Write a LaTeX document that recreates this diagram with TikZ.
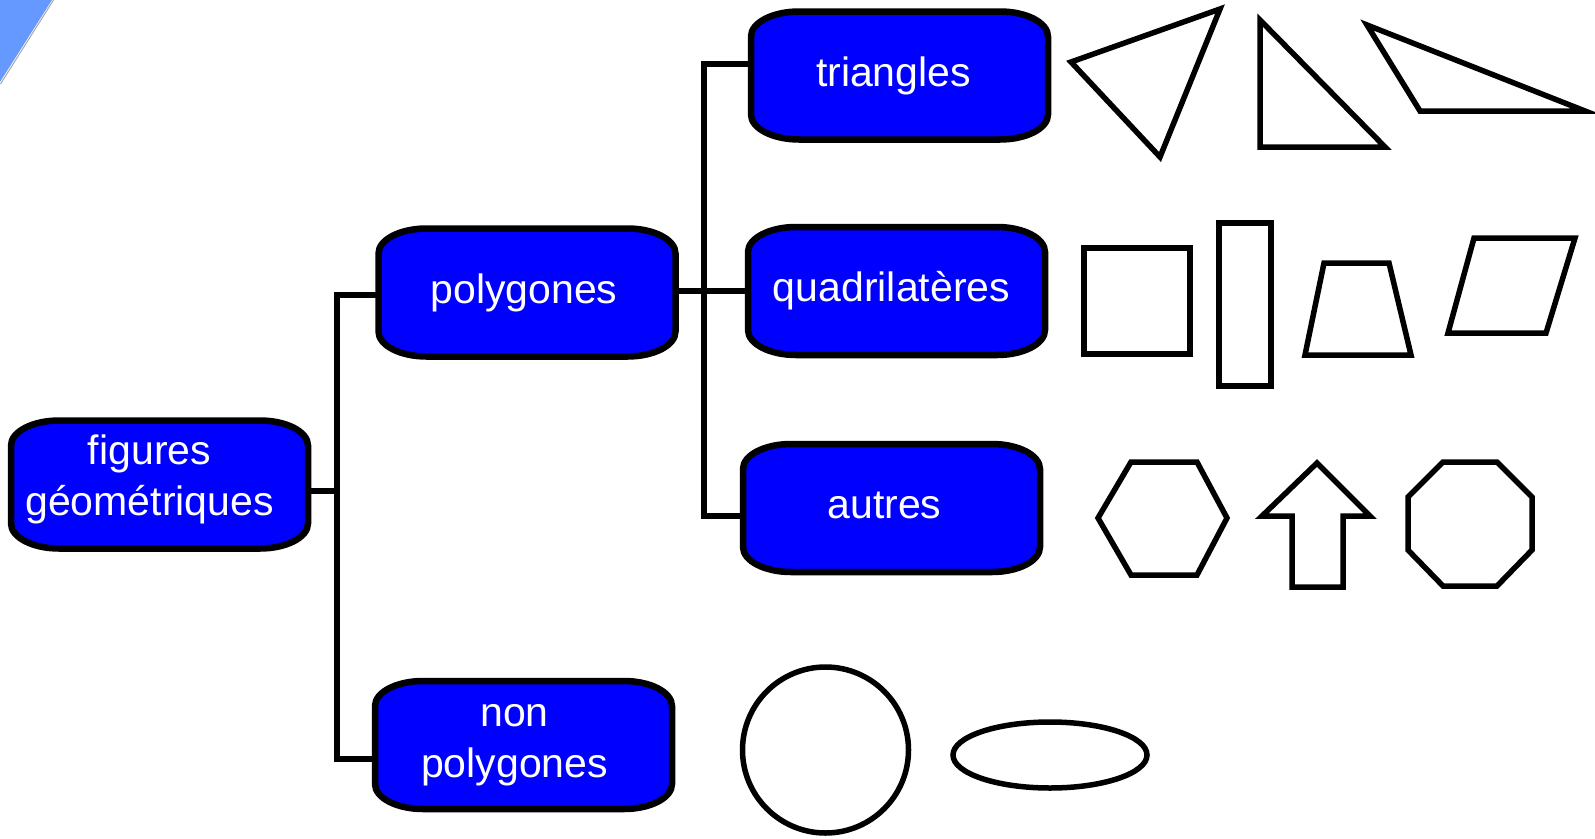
\documentclass[tikz,border=0pt]{standalone}
\usepackage{fontspec}
\setmainfont{Liberation Sans}
\usetikzlibrary{calc}
\definecolor{cornerblue}{RGB}{102,153,255}
\tikzset{
  boxpath/.style={draw=black, fill=blue, line width=6.5pt},
  boxnode/.style={inner sep=0pt, outer sep=0pt, minimum width=297pt, minimum height=128pt},
  boxtext/.style={text=white, font=\fontsize{41}{51.5}\selectfont, inner sep=0pt, align=center},
  oneline/.style={text height=29.5pt, text depth=8.5pt},
  conn/.style={draw=black, line width=5.5pt},
  figshape/.style={draw=black, line width=5.5pt, line join=miter},
}
\newcommand\gbox[3]{%
  \path[boxpath] ({#2-148.5+48},{#3-64}) -- ({#2+148.5-48},{#3-64})
    arc[start angle=90,end angle=0,x radius=48pt,y radius=25pt]
    -- ({#2+148.5},{#3+64-25})
    arc[start angle=0,end angle=-90,x radius=48pt,y radius=25pt]
    -- ({#2-148.5+48},{#3+64})
    arc[start angle=-90,end angle=-180,x radius=48pt,y radius=25pt]
    -- ({#2-148.5},{#3-64+25})
    arc[start angle=180,end angle=90,x radius=48pt,y radius=25pt] -- cycle;
  \node[boxnode] (#1) at (#2,#3) {};
}
\begin{document}
\begin{tikzpicture}[x=1pt,y=-1pt]
\useasboundingbox (0,0) rectangle (1595,838);
% corner decoration
\fill[cornerblue] (0,0) -- (52,0) -- (0,82) -- cycle;
\draw[gray!70, line width=1pt] (53.5,0) -- (0.5,84);
% boxes
\gbox{fig}{159.5}{484.5}
\gbox{poly}{527}{292.5}
\gbox{tri}{899.5}{75.5}
\gbox{quad}{896.5}{291}
\gbox{aut}{891.5}{508}
\gbox{nonp}{523.5}{745}
\node[boxtext] (fig-t) at ([xshift=-10pt,yshift=5pt]fig.center) {figures\\géométriques};
\node[boxtext, oneline] (poly-t) at ([xshift=-3pt]poly.center) {polygones};
\node[boxtext, oneline] (tri-t) at ([xshift=-6pt]tri.center) {triangles};
\node[boxtext, oneline] (quad-t) at ([xshift=-5pt]quad.center) {quadrilatères};
\node[boxtext, oneline] (aut-t) at ([xshift=-7pt]aut.center) {autres};
\node[boxtext] (nonp-t) at ([xshift=-9pt]nonp.center) {non\\polygones};
% connectors
\coordinate (ja) at (337,295);
\coordinate (jb) at (337,759);
\coordinate (jc) at (337,491);
\coordinate (jd) at (704,64);
\coordinate (je) at (704,516);
\coordinate (jf) at (704,291);
\draw[conn] (fig.east |- jc) -- (jc);
\draw[conn] (poly.west |- ja) -- (ja) -- (jb) -- (nonp.west |- jb);
\draw[conn] (tri.west |- jd) -- (jd) -- (je) -- (aut.west |- je);
\draw[conn] (poly.east |- jf) -- (quad.west |- jf);
% triangles
\draw[figshape] (1071,62) -- (1220,9) -- (1160,157) -- cycle;
\draw[figshape] (1260,20) -- (1385,147) -- (1260,147) -- cycle;
\draw[figshape] (1367,25) -- (1585,111) -- (1420,111) -- cycle;
% quadrilaterals
\draw[figshape] (1084,248) rectangle (1190,354);
\draw[figshape] (1219,223) rectangle (1271,386);
\draw[figshape] (1324,263) -- (1389,263) -- (1411,355) -- (1305,355) -- cycle;
\draw[figshape] (1474,238) -- (1575,238) -- (1546,333) -- (1448,333) -- cycle;
% others
\draw[figshape] (1098,518) -- (1131,462) -- (1197,462) -- (1227,518) -- (1197,575) -- (1131,575) -- cycle;
\draw[figshape] (1317,463) -- (1370,516) -- (1343,516) -- (1343,587) -- (1292,587) -- (1292,516) -- (1262,516) -- cycle;
\draw[figshape] (1443,462) -- (1497,462) -- (1532,497) -- (1532,550) -- (1497,586) -- (1443,586) -- (1408,550) -- (1408,497) -- cycle;
% non polygons
\draw[figshape] (825.5,750) circle[radius=83pt];
\draw[figshape] (1050,755) ellipse[x radius=97pt, y radius=33pt];
\end{tikzpicture}
\end{document}
